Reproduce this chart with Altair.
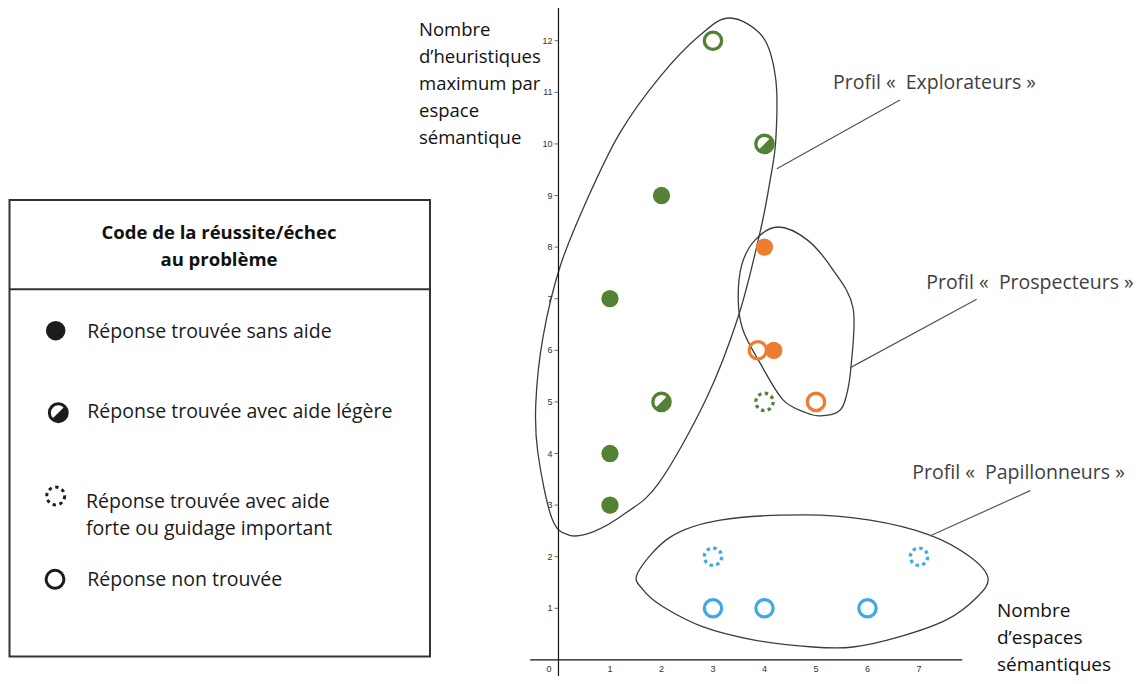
import altair as alt
import pandas as pd

# ---------------- data ----------------
groups = ["Explorateurs", "Prospecteurs", "Papillonneurs"]
group_colors = ["#548235", "#ED7D31", "#3DA9E6"]

pt_x = [3, 4, 2, 1, 2, 1, 1, 4, 4, 3.87, 4.18, 5, 3, 7, 3, 4, 6]
pt_y = [12, 10, 9, 7, 5, 4, 3, 5, 8, 6, 6, 5, 2, 2, 1, 1, 1]
pt_group = ["Explorateurs"] * 8 + ["Prospecteurs"] * 4 + ["Papillonneurs"] * 5
pt_status = ["non", "legere", "sans", "sans", "legere", "sans", "sans", "forte",
             "sans", "non", "sans", "non",
             "forte", "forte", "non", "non", "non"]

# outlines of the three profile zones (data units)
explo_x = [3.33, 3.97, 4.22, 4.22, 4.11, 3.91, 3.49, 2.86, 1.95, 1.31, 0.67, 0.20,
           -0.13, -0.40, -0.44, -0.30, 0.03, 0.55, 1.19, 1.97, 2.75]
explo_y = [12.44, 12.07, 11.24, 10.08, 9.30, 8.27, 6.65, 5.04, 3.43, 2.85, 2.48, 2.42,
           2.75, 4.01, 4.98, 6.26, 7.62, 8.91, 10.21, 11.30, 12.11]
prosp_x = [4.26, 4.83, 5.33, 5.72, 5.68, 5.58, 5.43, 5.08, 4.81, 4.36, 3.91, 3.58,
           3.49, 3.56, 3.82]
prosp_y = [8.39, 8.14, 7.56, 6.82, 5.68, 5.08, 4.81, 4.73, 4.79, 5.04, 5.76, 6.40,
           6.98, 7.66, 8.14]
papi_x = [1.54, 2.17, 3.14, 4.75, 6.05, 7.21, 7.99, 8.34, 8.13, 7.54, 6.63, 5.72,
          4.94, 3.78, 2.81, 2.03, 1.64]
papi_y = [1.69, 2.38, 2.71, 2.81, 2.71, 2.42, 2.00, 1.59, 1.22, 0.78, 0.45, 0.25,
          0.25, 0.39, 0.64, 1.03, 1.36]

# callout lines and profile labels
callout_x = [4.24, 5.66, 7.21]
callout_y = [9.52, 5.66, 2.40]
callout_x2 = [6.63, 8.12, 9.16]
callout_y2 = [10.85, 6.99, 3.28]
label_x = [5.33, 7.14, 6.87]
label_y = [11.18, 7.31, 3.62]
label_text = ["Profil «\u00a0 Explorateurs »", "Profil «\u00a0 Prospecteurs »",
              "Profil «\u00a0 Papillonneurs »"]

# axes
x_ticks = [1, 2, 3, 4, 5, 6, 7]
y_ticks = [1, 2, 3, 4, 5, 6, 7, 8, 9, 10, 11, 12]
x_axis_extent = [-0.55, 7.84]
y_axis_extent = [-0.47, 12.65]
y_title = ["Nombre", "d\u2019heuristiques", "maximum par", "espace", "sémantique"]
x_title = ["Nombre", "d\u2019espaces", "sémantiques"]

# legend
legend_title = ["Code de la réussite/échec", "au problème"]
legend_labels = [["Réponse trouvée sans aide"],
                 ["Réponse trouvée avec aide légère"],
                 ["Réponse trouvée avec aide", "forte ou guidage important"],
                 ["Réponse non trouvée"]]

# ---------------- tables ----------------
pts = pd.DataFrame({"x": pt_x, "y": pt_y, "groupe": pt_group, "statut": pt_status})

shape_rows = []
for name, xs_, ys_ in [("Explorateurs", explo_x, explo_y),
                       ("Prospecteurs", prosp_x, prosp_y),
                       ("Papillonneurs", papi_x, papi_y)]:
    for i, (a, b) in enumerate(zip(xs_, ys_)):
        shape_rows.append({"forme": name, "idx": i, "x": a, "y": b})
shapes = pd.DataFrame(shape_rows)

callouts = pd.DataFrame({"x": callout_x, "y": callout_y, "x2": callout_x2, "y2": callout_y2})
labels = pd.DataFrame({"x": label_x, "y": label_y, "t": label_text})
xt = pd.DataFrame({"v": x_ticks})
yt = pd.DataFrame({"v": y_ticks})
xaxis_df = pd.DataFrame({"a": [x_axis_extent[0]], "b": [x_axis_extent[1]]})
yaxis_df = pd.DataFrame({"a": [y_axis_extent[0]], "b": [y_axis_extent[1]]})

# ---------------- scales ----------------
FONT = "Open Sans"
xs = alt.Scale(domain=[-10.689, 11.214], zero=False, nice=False)
ys = alt.Scale(domain=[-0.312, 12.634], zero=False, nice=False)
col = alt.Color("groupe:N", scale=alt.Scale(domain=groups, range=group_colors), legend=None)
HALF = "M -0.7071 0.7071 A 1 1 0 0 0 0.7071 -0.7071 Z"
SIZE = 300


def X(f):
    return alt.X(f, scale=xs, axis=None)


def Y(f):
    return alt.Y(f, scale=ys, axis=None)


layers = []

# zones
layers.append(alt.Chart(shapes).mark_line(interpolate="cardinal-closed", color="#3c3c3c",
                                          strokeWidth=1.3).encode(
    x=X("x:Q"), y=Y("y:Q"), detail="forme:N", order="idx:Q"))
layers.append(alt.Chart(callouts).mark_rule(color="#555555", strokeWidth=1.2).encode(
    x=X("x:Q"), y=Y("y:Q"), x2="x2:Q", y2="y2:Q"))
layers.append(alt.Chart(labels).mark_text(align="left", baseline="middle", font=FONT,
                                          fontSize=19.5, color="#404040").encode(
    x=X("x:Q"), y=Y("y:Q"), text="t:N"))

# axes drawn through the chart scales
layers.append(alt.Chart(xaxis_df).mark_rule(color="#111111", strokeWidth=1.2).encode(
    x=X("a:Q"), x2="b:Q", y=Y("z:Q")).transform_calculate(z="0"))
layers.append(alt.Chart(yaxis_df).mark_rule(color="#111111", strokeWidth=1.2).encode(
    y=Y("a:Q"), y2="b:Q", x=X("z:Q")).transform_calculate(z="0"))
layers.append(alt.Chart(yt).mark_rule(color="#444444", strokeWidth=0.8, x2Offset=-4).encode(
    y=Y("v:Q"), x=X("z:Q"), x2="z:Q").transform_calculate(z="0"))
layers.append(alt.Chart(yt).mark_text(align="right", baseline="middle", dx=-6,
                                      font="Liberation Sans", fontSize=9, color="#333333").encode(
    y=Y("v:Q"), x=X("z:Q"), text="v:Q").transform_calculate(z="0"))
layers.append(alt.Chart(xt).mark_text(align="center", baseline="middle", dy=9,
                                      font="Liberation Sans", fontSize=9, color="#333333").encode(
    x=X("v:Q"), y=Y("z:Q"), text="v:Q").transform_calculate(z="0"))
layers.append(alt.Chart(pd.DataFrame({"v": [0]})).mark_text(
    align="center", baseline="middle", dx=-9.5, dy=9, font="Liberation Sans",
    fontSize=9, color="#333333").encode(x=X("v:Q"), y=Y("v:Q"), text="v:Q"))

# points
def pts_of(s):
    return alt.Chart(pts).transform_filter(alt.datum.statut == s)

layers.append(pts_of("sans").mark_point(shape="circle", filled=True, size=SIZE, opacity=1).encode(
    x=X("x:Q"), y=Y("y:Q"), color=col))
layers.append(pts_of("non").mark_point(shape="circle", filled=False, size=SIZE, opacity=1,
                                        strokeWidth=3.3).encode(x=X("x:Q"), y=Y("y:Q"), color=col))
layers.append(pts_of("legere").mark_point(shape="circle", filled=False, size=SIZE, opacity=1,
                                           strokeWidth=3.3).encode(x=X("x:Q"), y=Y("y:Q"), color=col))
layers.append(pts_of("legere").mark_point(shape=HALF, filled=True, size=SIZE, opacity=1,
                                           strokeWidth=0).encode(x=X("x:Q"), y=Y("y:Q"), color=col))
layers.append(pts_of("forte").mark_point(shape="circle", filled=False, size=SIZE, opacity=1,
                                          strokeWidth=3.3, strokeDash=[3.4, 3.4]).encode(
    x=X("x:Q"), y=Y("y:Q"), color=col))

# axis titles
layers.append(alt.Chart().mark_text(align="left", baseline="alphabetic", font=FONT, fontSize=18.5,
                                    lineHeight=27, color="#111111").encode(
    x=alt.value(411), y=alt.value(27.5), text=alt.value(y_title)))
layers.append(alt.Chart().mark_text(align="left", baseline="alphabetic", font=FONT, fontSize=19,
                                    lineHeight=26.8, color="#111111").encode(
    x=alt.value(989), y=alt.value(609), text=alt.value(x_title)))

# legend box
layers.append(alt.Chart().mark_rect(fill="white", stroke="#333333", strokeWidth=2).encode(
    x=alt.value(1.5), x2=alt.value(422), y=alt.value(192), y2=alt.value(648.5)))
layers.append(alt.Chart().mark_rule(color="#333333", strokeWidth=2).encode(
    x=alt.value(1.5), x2=alt.value(422), y=alt.value(281.3)))
layers.append(alt.Chart().mark_text(align="center", baseline="middle", font=FONT, fontSize=18.5,
                                    fontWeight="bold", lineHeight=27.3, color="#111111").encode(
    x=alt.value(211), y=alt.value(224.7), text=alt.value(legend_title)))

LC = "#1c1c1c"
layers.append(alt.Chart().mark_point(shape="circle", filled=True, size=380, opacity=1, color=LC).encode(
    x=alt.value(47.7), y=alt.value(322.7)))
layers.append(alt.Chart().mark_point(shape="circle", filled=False, size=320, opacity=1, color=LC,
                                     strokeWidth=3).encode(x=alt.value(50.3), y=alt.value(404.7)))
layers.append(alt.Chart().mark_point(shape=HALF, filled=True, size=320, opacity=1, color=LC).encode(
    x=alt.value(50.3), y=alt.value(404.7)))
layers.append(alt.Chart().mark_point(shape="circle", filled=False, size=320, opacity=1, color=LC,
                                     strokeWidth=3, strokeDash=[3.3, 3.6]).encode(
    x=alt.value(47.7), y=alt.value(488)))
layers.append(alt.Chart().mark_point(shape="circle", filled=False, size=320, opacity=1, color=LC,
                                     strokeWidth=3).encode(x=alt.value(47), y=alt.value(571.3)))

for lab, xx, yy in zip(legend_labels, [79.3, 79.3, 78, 79.3], [323.5, 403.5, 494, 571.5]):
    layers.append(alt.Chart().mark_text(align="left", baseline="middle", font=FONT, fontSize=19.5,
                                        lineHeight=26.6, color="#1a1a1a").encode(
        x=alt.value(xx), y=alt.value(yy), text=alt.value(lab)))

chart = alt.layer(*layers).properties(
    width=1128, height=668, autosize=alt.AutoSizeParams(type="none"), padding=0
).configure_view(stroke="transparent")

chart.save("out.html", embed_options={"renderer": "svg", "actions": False})
